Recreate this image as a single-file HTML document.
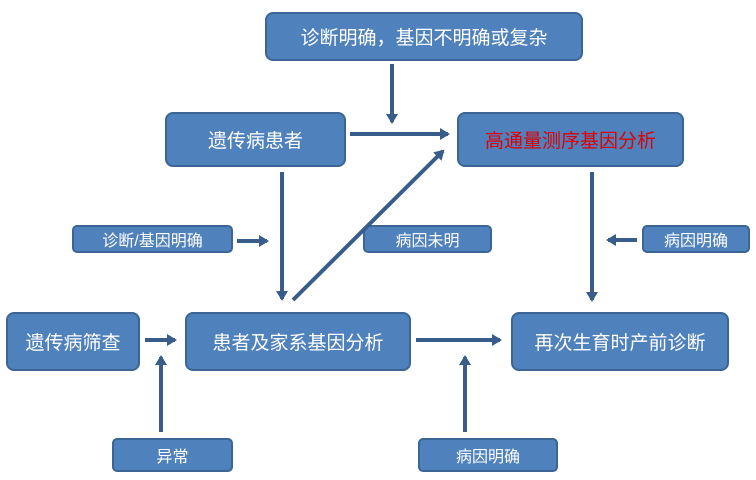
<!DOCTYPE html>
<html><head><meta charset="utf-8"><style>
body{margin:0;background:#fff;width:756px;height:480px;overflow:hidden;position:relative;font-family:"Liberation Sans","Noto Sans CJK SC",sans-serif}
.b{position:absolute;box-sizing:border-box;background:#4f81bd;border:2px solid #3a6595;border-radius:8px;color:#fff;display:flex;align-items:center;justify-content:center;white-space:nowrap}
svg{position:absolute;left:0;top:0}
</style></head><body>
<div class="b" style="left:265px;top:12px;width:318px;height:49px;font-size:19px">诊断明确，基因不明确或复杂</div>
<div class="b" style="left:165px;top:112px;width:181px;height:55px;font-size:19px">遗传病患者</div>
<div class="b" style="left:457px;top:112px;width:227px;height:55px;font-size:19px;color:#e00000">高通量测序基因分析</div>
<div class="b" style="left:72px;top:225px;width:161px;height:28px;font-size:16px;border-radius:5px">诊断/基因明确</div>
<div class="b" style="left:363px;top:225px;width:129px;height:28px;font-size:16px;border-radius:5px">病因未明</div>
<div class="b" style="left:642px;top:225px;width:108px;height:28px;font-size:16px;border-radius:5px">病因明确</div>
<div class="b" style="left:6px;top:312px;width:134px;height:59px;font-size:19px">遗传病筛查</div>
<div class="b" style="left:185px;top:312px;width:226px;height:59px;font-size:19px">患者及家系基因分析</div>
<div class="b" style="left:511px;top:312px;width:218px;height:59px;font-size:19px">再次生育时产前诊断</div>
<div class="b" style="left:112px;top:438px;width:121px;height:34px;font-size:16px;border-radius:5px">异常</div>
<div class="b" style="left:418px;top:438px;width:140px;height:34px;font-size:16px;border-radius:5px">病因明确</div>
<svg width="756" height="480">
<defs><marker id="a" markerWidth="4" markerHeight="4" refX="2" refY="2" orient="auto" markerUnits="strokeWidth"><path d="M0,0.5 L2.5,2 L0,3.5 Z" fill="#385d8a"/></marker></defs>
<g stroke="#385d8a" stroke-width="4" fill="none" marker-end="url(#a)">
<line x1="392" y1="64" x2="392" y2="122"/>
<line x1="350" y1="134" x2="448" y2="134"/>
<line x1="282" y1="172" x2="282" y2="299"/>
<line x1="293" y1="300" x2="443" y2="151"/>
<line x1="237" y1="241" x2="267" y2="241"/>
<line x1="637" y1="240" x2="608" y2="240"/>
<line x1="592" y1="172" x2="592" y2="300"/>
<line x1="145" y1="340" x2="175" y2="340"/>
<line x1="416" y1="340" x2="500" y2="340"/>
<line x1="161" y1="432" x2="161" y2="357"/>
<line x1="465" y1="432" x2="465" y2="357"/>
</g></svg>
</body></html>
